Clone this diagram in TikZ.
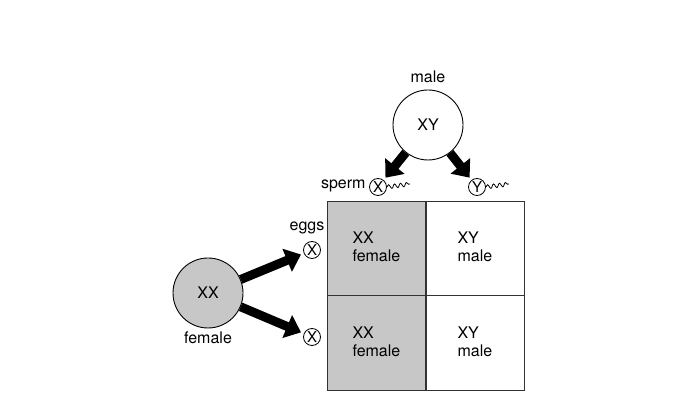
\documentclass[tikz,border=0pt]{standalone}
\usepackage{fontspec}
\setmainfont{TeX Gyre Heros}
\usetikzlibrary{arrows.meta,decorations.pathmorphing}
\begin{document}
\begin{tikzpicture}[x=1pt,y=-1pt,
  every node/.style={font=\fontsize{16}{18}\selectfont},
  parent/.style={circle,draw=black,line width=0.9pt,minimum size=70pt,inner sep=0pt},
  gamete/.style={circle,draw=black,line width=0.8pt,minimum size=17pt,inner sep=0pt,font=\fontsize{15}{15}\selectfont},
  cell/.style={draw=black!80,line width=1pt,minimum width=98pt,minimum height=94.5pt,inner sep=0pt},
  celltext/.style={align=left,font=\fontsize{16}{18.5}\selectfont},
  bigarrow/.style={line width=9pt,-{Triangle[length=15pt,width=24pt]},shorten >=3pt},
  tail/.style={line width=0.8pt,decorate,decoration={snake,amplitude=2pt,segment length=6pt}}]
\useasboundingbox (0,0) rectangle (699,411);
% Punnett grid
\node[cell,fill=black!22,anchor=north west] (c11) at (327,201) {};
\node[cell,anchor=north west] (c12) at (426,201) {};
\node[cell,fill=black!22,anchor=north west] (c21) at (327,295.5) {};
\node[cell,anchor=north west] (c22) at (426,295.5) {};
\node[celltext,anchor=north west] (t11) at (349,228) {XX\\female};
\node[celltext,anchor=north west] (t12) at (454,228) {XY\\male};
\node[celltext,anchor=north west] (t21) at (349,323) {XX\\female};
\node[celltext,anchor=north west] (t22) at (454,323) {XY\\male};
% male parent
\node[parent,fill=white] (male) at (428,125) {XY};
\node (malelbl) at (428,77) {male};
% sperm
\node[gamete] (spermX) at (378,187) {X};
\node[gamete] (spermY) at (477,187) {Y};
\node[anchor=east] (spermlbl) at (369,186) {sperm};
\coordinate (tx) at (410,184);
\coordinate (ty) at (509,184);
\draw[tail] (spermX.east) -- (tx);
\draw[tail] (spermY.east) -- (ty);
\draw[bigarrow] (male) -- (spermX);
\draw[bigarrow] (male) -- (spermY);
% female parent
\node[parent,fill=black!22] (female) at (208,293) {XX};
\node (femalelbl) at (208,338) {female};
% eggs
\node[gamete] (egg1) at (312,250) {X};
\node[gamete] (egg2) at (312,337) {X};
\node (eggslbl) at (307,228) {eggs};
\draw[bigarrow] (female) -- (egg1);
\draw[bigarrow] (female) -- (egg2);
\end{tikzpicture}
\end{document}
